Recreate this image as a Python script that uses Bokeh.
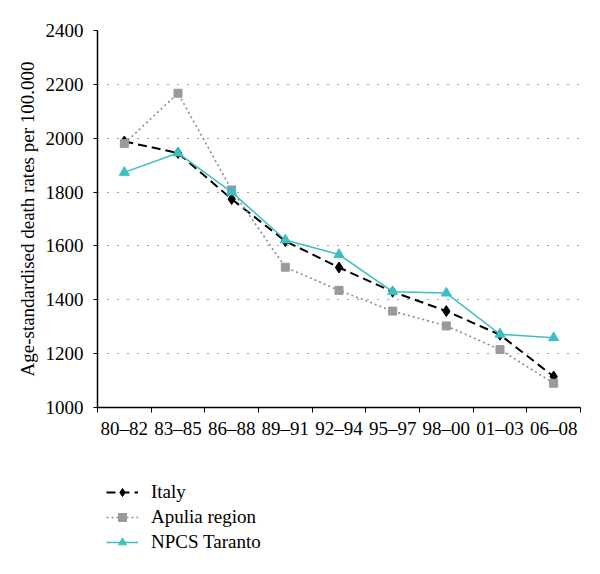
from bokeh.plotting import figure
from bokeh.layouts import column
from bokeh.models import (Range1d, LinearAxis, FixedTicker, Legend, LegendItem)
from bokeh.embed import file_html
from bokeh.resources import INLINE

periods = ["80\u201382", "83\u201385", "86\u201388", "89\u201391", "92\u201394",
           "95\u201397", "98\u201300", "01\u201303", "06\u201308"]
italy = [1988, 1945, 1774, 1618, 1520, 1430, 1358, 1270, 1115]
apulia = [1980, 2167, 1808, 1521, 1435, 1358, 1303, 1215, 1090]
taranto = [1873, 1945, 1800, 1622, 1568, 1430, 1425, 1272, 1259]
y_ticks = [1000, 1200, 1400, 1600, 1800, 2000, 2200, 2400]
series_names = ["Italy", "Apulia region", "NPCS Taranto"]

FONT = "Liberation Serif"
CYAN = "#3BBFC2"
STYLES = [dict(line_color="black", line_width=2, line_dash="9 5"),
          dict(line_color="#8c8c8c", line_width=1.6, line_dash="2 3"),
          dict(line_color=CYAN, line_width=1.5)]
MARKERS = [dict(marker="diamond", size=11, color="black"),
           dict(marker="square", size=8, color="#9a9a9a"),
           dict(marker="triangle", size=10, color=CYAN)]

n = len(periods)
xpos = [i + 0.5 for i in range(n)]          # category centres
edges = list(range(n + 1))                   # category boundaries

p = figure(width=584, height=452, x_range=Range1d(0, n),
           y_range=Range1d(1000, 2400), output_backend="svg", toolbar_location=None,
           x_axis_location=None, min_border_left=97, min_border_right=4,
           min_border_top=30, min_border_bottom=45)
p.outline_line_color = None
p.xgrid.visible = False
p.ygrid.ticker = FixedTicker(ticks=y_ticks)
p.ygrid.grid_line_color = "#444444"
p.ygrid.grid_line_dash = "1 9"
p.ygrid.grid_line_width = 1.2

ya = p.yaxis[0]
ya.ticker = FixedTicker(ticks=y_ticks)
ya.axis_label = "Age-standardised death rates per 100.000"
ya.axis_label_text_font = FONT
ya.axis_label_text_font_size = "19px"
ya.axis_label_text_font_style = "normal"
ya.axis_label_text_color = "black"
ya.axis_label_standoff = 5
ya.major_label_text_font = FONT
ya.major_label_text_font_size = "19px"
ya.major_label_text_color = "black"
ya.major_label_standoff = 10
ya.major_tick_out = 4
ya.major_tick_in = 0
ya.minor_tick_line_color = None
ya.axis_line_width = 1.5
ya.axis_line_color = "black"
ya.major_tick_line_color = "black"

tick_axis = LinearAxis(ticker=FixedTicker(ticks=edges),
                       major_label_overrides={e: "" for e in edges},
                       major_label_standoff=0,
                       major_tick_out=5, major_tick_in=0, minor_tick_line_color=None,
                       axis_line_width=1.5, axis_line_color="black", major_tick_line_color="black")
p.add_layout(tick_axis, "below")

label_axis = LinearAxis(ticker=FixedTicker(ticks=xpos),
                        major_label_overrides={x: lab for x, lab in zip(xpos, periods)},
                        axis_line_color=None, major_tick_line_color=None,
                        minor_tick_line_color=None, major_tick_out=0, major_tick_in=0,
                        major_label_text_font=FONT, major_label_text_font_size="19px",
                        major_label_text_color="black", major_label_standoff=5)
p.add_layout(label_axis, "below")

for vals, ls, ms in zip([italy, apulia, taranto], STYLES, MARKERS):
    p.line(xpos, vals, **ls)
    p.scatter(xpos, vals, **ms)

# legend panel below the chart (its renderers carry the series but lie outside its view)
lg = figure(width=584, height=106, output_backend="svg", toolbar_location=None,
            x_range=Range1d(0, 1), y_range=Range1d(0, 1),
            x_axis_location=None, y_axis_location=None,
            min_border_left=97, min_border_right=4, min_border_top=0, min_border_bottom=0)
lg.outline_line_color = None
lg.grid.visible = False
items = []
for name, vals, ls, ms in zip(series_names, [italy, apulia, taranto], STYLES, MARKERS):
    r1 = lg.line(xpos, vals, **ls)
    r2 = lg.scatter(xpos, vals, **ms)
    items.append(LegendItem(label=name, renderers=[r1, r2]))

legend = Legend(items=items, location=(9, 5), orientation="vertical",
                label_text_font=FONT, label_text_font_size="19px", label_text_color="black",
                glyph_width=32, glyph_height=20, label_height=20, spacing=3,
                label_standoff=13, border_line_color=None, background_fill_alpha=0,
                margin=0, padding=0)
lg.add_layout(legend, "center")

layout = column(p, lg, spacing=0)
open("out.html", "w").write(file_html(layout, INLINE))
